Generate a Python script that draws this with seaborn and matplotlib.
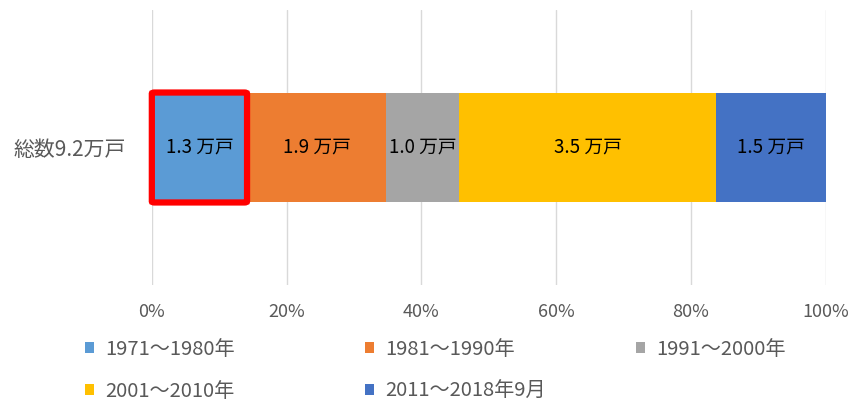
import numpy as np
import pandas as pd
import matplotlib
matplotlib.use("Agg")
import matplotlib.pyplot as plt
import seaborn as sns
from matplotlib.patches import Patch, FancyBboxPatch
from matplotlib.ticker import PercentFormatter

# data (万戸)
periods = ["1971～1980年", "1981～1990年", "1991～2000年", "2001～2010年", "2011～2018年9月"]
counts = [1.3, 1.9, 1.0, 3.5, 1.5]
colors = ["#5B9BD5", "#ED7D31", "#A5A5A5", "#FFC000", "#4472C4"]
category = "総数9.2万戸"

sns.set_theme(style="white")
plt.rcParams["font.family"] = ["Noto Sans CJK JP", "DejaVu Sans"]

total = sum(counts)
shares = np.array(counts) / total
right = np.cumsum(shares)
left = right - shares

fig = plt.figure(figsize=(8.53, 4.03), dpi=100)
ax = fig.add_axes([0.178, 0.293, 0.79, 0.682])

# stacked bar: draw cumulative totals from the longest down
for i in range(len(periods) - 1, -1, -1):
    df = pd.DataFrame({"share": [right[i]], "cat": [category]})
    sns.barplot(data=df, x="share", y="cat", orient="h", color=colors[i],
                width=0.4, saturation=1, linewidth=0, ax=ax, zorder=2)

for i, c in enumerate(counts):
    ax.text((left[i] + right[i]) / 2, 0, f"{c} 万戸", ha="center", va="center",
            fontsize=13.5, color="black", zorder=4)

# red highlight around first segment
ax.add_patch(FancyBboxPatch((left[0], -0.2), shares[0], 0.4,
                            boxstyle="round,pad=0,rounding_size=0.004",
                            fill=False, edgecolor="#FF0000", linewidth=4.5,
                            zorder=5, clip_on=False))

ax.set_xlim(0, 1)
ax.set_ylim(0.5, -0.5)
ax.xaxis.set_major_formatter(PercentFormatter(1.0, decimals=0))
ax.set_xticks(np.linspace(0, 1, 6))
ax.grid(axis="x", color="#D9D9D9", linewidth=1, zorder=0)
ax.set_axisbelow(True)
for s in ax.spines.values():
    s.set_visible(False)
ax.set_xlabel("")
ax.set_ylabel("")
ax.tick_params(axis="x", length=0, pad=13, labelsize=13, labelcolor="#595959")
ax.tick_params(axis="y", length=0, pad=19, labelsize=15, labelcolor="#595959")

# legend: three fixed-width columns, filled row by row
handles = [Patch(facecolor=colors[i], edgecolor="none", label=periods[i]) for i in range(len(periods))]
columns = [[0, 3], [1, 4], [2]]
col_x = [0.100, 0.428, 0.746]
for col, x in zip(columns, col_x):
    leg = fig.legend([handles[i] for i in col], [periods[i] for i in col],
                     loc="upper left", bbox_to_anchor=(x, 0.16), ncol=1, frameon=False,
                     fontsize=14.5, labelcolor="#595959", handlelength=0.45, handleheight=0.45,
                     handletextpad=0.55, labelspacing=1.05, borderaxespad=0, borderpad=0)

fig.savefig("out.png", dpi=100)
